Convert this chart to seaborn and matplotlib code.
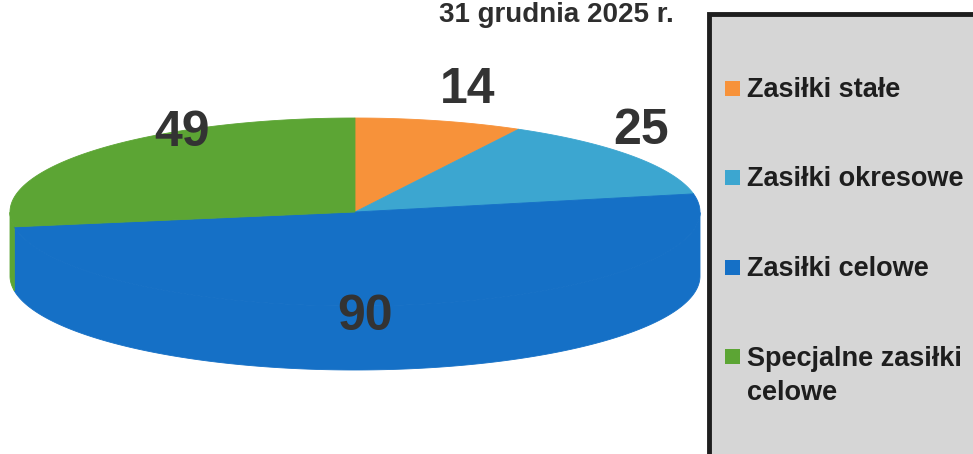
import numpy as np
import matplotlib
matplotlib.use("Agg")
import matplotlib.pyplot as plt
from matplotlib.patches import Polygon, Rectangle
import seaborn as sns

# ===== data =====
categories = ["Zasiłki stałe", "Zasiłki okresowe", "Zasiłki celowe", "Specjalne zasiłki\ncelowe"]
values = [14, 25, 90, 49]
colors = ["#F7923A", "#3CA6D0", "#1570C6", "#5CA534"]
title_text = "31 grudnia 2025 r."

# ===== layout (pixels) =====
W, H = 973, 454
CX, CY = 355, 212        # centre of top face
RX, RY = 345, 94         # ellipse radii
DEPTH = 64               # pie thickness
START = 90.0             # first slice starts at 12 o'clock, clockwise
# label anchor: (radial factor x, radial factor y) along mid angle
label_r = [(1.34, 1.34), (1.03, 1.45), (0.16, 1.13), (0.66, 1.29)]

sns.set_theme(style="white")
plt.rcParams["font.family"] = ["Liberation Sans", "DejaVu Sans"]

fig = plt.figure(figsize=(W / 100, H / 100), dpi=100)
ax = fig.add_axes([0, 0, 1, 1])
ax.set_xlim(0, W)
ax.set_ylim(H, 0)
ax.axis("off")

pal = sns.color_palette(colors)


def pt(theta, dy=0.0, rx=1.0, ry=1.0):
    t = np.radians(theta)
    return CX + RX * rx * np.cos(t), CY - RY * ry * np.sin(t) + dy


total = sum(values)
spans = []
a0 = START
for v in values:
    a1 = a0 - 360.0 * v / total
    spans.append((a0, a1))
    a0 = a1

# side walls (front half only)
for (a0, a1), c in zip(spans, pal):
    th = np.linspace(a0, a1, 400)
    front = np.sin(np.radians(th)) <= 0
    idx = np.flatnonzero(front)
    if idx.size == 0:
        continue
    runs = np.split(idx, np.flatnonzero(np.diff(idx) > 1) + 1)
    for r in runs:
        t = th[r]
        xt, yt = pt(t)
        xb, yb = pt(t[::-1], DEPTH)
        poly = np.column_stack([np.r_[xt, xb], np.r_[yt, yb]])
        ax.add_patch(Polygon(poly, closed=True, fc=c, ec=c, lw=0.6, zorder=1))

# top faces
for (a0, a1), c in zip(spans, pal):
    th = np.linspace(a0, a1, 300)
    x, y = pt(th)
    poly = np.column_stack([np.r_[CX, x], np.r_[CY, y]])
    ax.add_patch(Polygon(poly, closed=True, fc=c, ec=c, lw=0.6, zorder=2))

# value labels
for (a0, a1), v, (rx, ry) in zip(spans, values, label_r):
    mid = (a0 + a1) / 2
    x, y = pt(mid, 0, rx, ry)
    ax.text(x, y, str(v), ha="center", va="center", fontsize=36,
            fontweight="bold", color="#333333", zorder=5)

# title
ax.text(556, 22, title_text, ha="center", va="baseline", fontsize=20,
        fontweight="bold", color="#2e2e2e")

# legend box
ax.add_patch(Rectangle((709, 14), 280, 460, fc="#D6D6D6", ec="#1e1e1e",
                       lw=3.5, zorder=3, clip_on=False))
leg_y0, leg_dy = 88, 89.5
for i, (lab, c) in enumerate(zip(categories, pal)):
    y = leg_y0 + i * leg_dy
    ax.add_patch(Rectangle((725, y - 7.5), 15, 15, fc=c, ec="none", zorder=4))
    ax.text(747, y - 11, lab, ha="left", va="top", fontsize=19.5,
            fontweight="bold", color="#1e1e1e", linespacing=1.45, zorder=4)

fig.savefig("out.png", dpi=100)
